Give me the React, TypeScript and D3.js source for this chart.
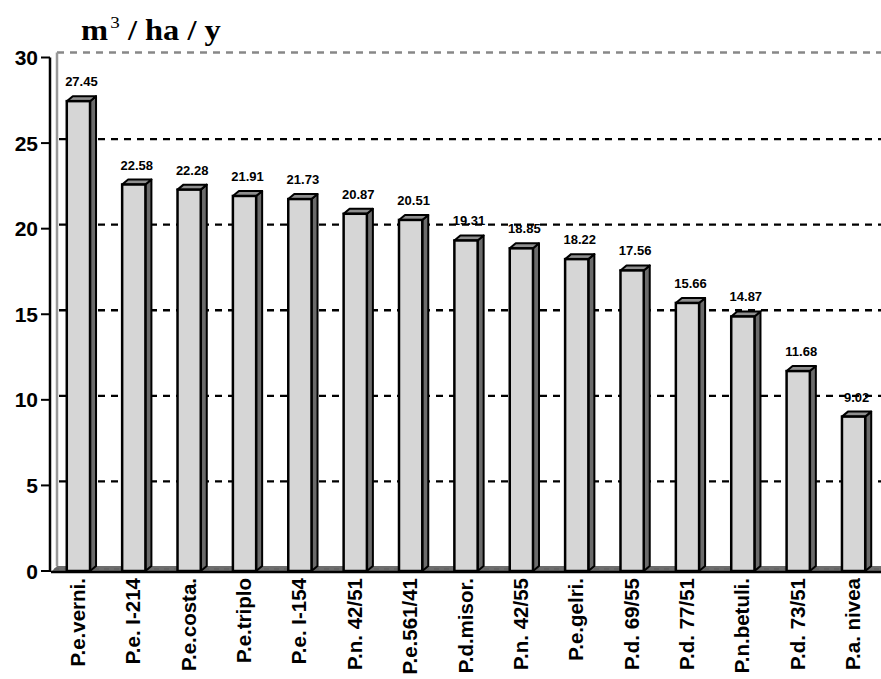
import React, { useRef, useEffect } from 'react';
import * as d3 from 'd3';

const categories = [
    'P.e.verni.', 'P.e. I-214', 'P.e.costa.', 'P.e.triplo', 'P.e. I-154',
    'P.n. 42/51', 'P.e.561/41', 'P.d.misor.', 'P.n. 42/55', 'P.e.gelri.',
    'P.d. 69/55', 'P.d. 77/51', 'P.n.betuli.', 'P.d. 73/51', 'P.a. nivea'
];
const values = [27.45, 22.58, 22.28, 21.91, 21.73, 20.87, 20.51, 19.31, 18.85, 18.22, 17.56, 15.66, 14.87, 11.68, 9.02];
const yTicks = [0, 5, 10, 15, 20, 25, 30];

const W = 881;
const H = 679;
// 3d depth offset
const DX = 6;
const DY = -5;
const SANS = '"Liberation Sans", Arial, sans-serif';

const createChart = (svg: d3.Selection<SVGSVGElement, unknown, null, undefined>): void => {
    svg.selectAll('*').remove();

    const left = 51;
    const right = 881;

    const x = d3.scaleBand<string>()
        .domain(categories)
        .range([left, right])
        .paddingInner(0.58)
        .paddingOuter(0.285);

    const y = d3.scaleLinear()
        .domain([0, 30])
        .range([571, 57.5]);

    const bw = x.bandwidth();
    const y0 = y(0);

    // back wall gridlines
    const g = svg.append('g');
    g.selectAll('.grid')
        .data(yTicks.filter(t => t > 0 && t < 30))
        .enter().append('line')
        .attr('x1', left + DX + 2)
        .attr('x2', right)
        .attr('y1', d => y(d) + DY + 1)
        .attr('y2', d => y(d) + DY + 1)
        .attr('stroke', '#000')
        .attr('stroke-width', 2.4)
        .attr('stroke-dasharray', '7,6');

    // top edge of the wall
    g.append('line')
        .attr('x1', left + DX).attr('x2', right)
        .attr('y1', y(30) + DY).attr('y2', y(30) + DY)
        .attr('stroke', '#888').attr('stroke-width', 2.5)
        .attr('stroke-dasharray', '7,6');
    // left edge of the wall
    g.append('line')
        .attr('x1', left + DX).attr('x2', left + DX)
        .attr('y1', y(30) + DY).attr('y2', y0 + DY)
        .attr('stroke', '#999').attr('stroke-width', 2.5);

    // floor
    g.append('polygon')
        .attr('points', `${left},${y0 + 1} ${left + DX},${y0 + DY} ${right},${y0 + DY} ${right},${y0 + 1}`)
        .attr('fill', '#6e6e6e');
    g.append('line')
        .attr('x1', left + DX / 2).attr('x2', right)
        .attr('y1', y0 - 2).attr('y2', y0 - 2)
        .attr('stroke', '#555').attr('stroke-width', 0.8)
        .attr('stroke-dasharray', '5,5');

    // bars
    const bars = g.selectAll('.bar')
        .data(values)
        .enter().append('g')
        .attr('class', 'bar');

    // side face
    bars.append('polygon')
        .attr('points', (d, i) => {
            const bx = x(categories[i])! + bw;
            const ty = y(d);
            return `${bx},${ty} ${bx + DX},${ty + DY} ${bx + DX},${y0 + DY} ${bx},${y0}`;
        })
        .attr('fill', '#6b6b6b')
        .attr('stroke', '#000')
        .attr('stroke-width', 2)
        .attr('stroke-linejoin', 'round');

    // top face
    bars.append('polygon')
        .attr('points', (d, i) => {
            const bx = x(categories[i])!;
            const ty = y(d);
            return `${bx},${ty} ${bx + DX},${ty + DY} ${bx + bw + DX},${ty + DY} ${bx + bw},${ty}`;
        })
        .attr('fill', '#8f8f8f')
        .attr('stroke', '#000')
        .attr('stroke-width', 2)
        .attr('stroke-linejoin', 'round');

    // front face
    bars.append('rect')
        .attr('x', (d, i) => x(categories[i])!)
        .attr('y', d => y(d))
        .attr('width', bw)
        .attr('height', d => y0 - y(d))
        .attr('fill', '#d6d6d6')
        .attr('stroke', '#000')
        .attr('stroke-width', 2.5);

    // value labels
    g.selectAll('.val')
        .data(values)
        .enter().append('text')
        .attr('x', (d, i) => x(categories[i])! + bw / 2 + DX / 2)
        .attr('y', d => y(d) + DY - 10)
        .attr('text-anchor', 'middle')
        .attr('font-family', SANS)
        .attr('font-weight', 'bold')
        .attr('font-size', 13)
        .attr('fill', '#000')
        .text(d => d.toFixed(2));

    // x axis line
    g.append('line')
        .attr('x1', left).attr('x2', right)
        .attr('y1', y0 + 1).attr('y2', y0 + 1)
        .attr('stroke', '#000').attr('stroke-width', 2.5);

    // y axis
    g.append('line')
        .attr('x1', left - 1).attr('x2', left - 1)
        .attr('y1', y(30)).attr('y2', y0 + 1)
        .attr('stroke', '#000').attr('stroke-width', 2.5);
    g.selectAll('.ytick')
        .data(yTicks)
        .enter().append('line')
        .attr('x1', left - 10).attr('x2', left - 1)
        .attr('y1', d => y(d)).attr('y2', d => y(d))
        .attr('stroke', '#000').attr('stroke-width', 2);
    g.selectAll('.ylab')
        .data(yTicks)
        .enter().append('text')
        .attr('x', left - 13)
        .attr('y', d => y(d))
        .attr('dy', '0.36em')
        .attr('text-anchor', 'end')
        .attr('font-family', SANS)
        .attr('font-weight', 'bold')
        .attr('font-size', 21)
        .text(d => d);

    // category labels
    g.selectAll('.xlab')
        .data(categories)
        .enter().append('text')
        .attr('transform', d => `translate(${x(d)! + bw / 2 + 6.5},${y0 + 7}) rotate(-90)`)
        .attr('text-anchor', 'end')
        .attr('font-family', SANS)
        .attr('font-weight', 'bold')
        .attr('font-size', 20.5)
        .text(d => d);

    // unit title
    const title = svg.append('text')
        .attr('transform', 'translate(81,40) scale(1.12,1)')
        .attr('font-family', '"Liberation Serif", "Times New Roman", serif')
        .attr('font-weight', 'bold')
        .attr('font-size', 29);
    title.append('tspan').text('m');
    title.append('tspan')
        .attr('dy', -12)
        .attr('dx', 2)
        .attr('font-size', 17)
        .attr('font-weight', 'normal')
        .text('3');
    title.append('tspan')
        .attr('dy', 12)
        .text(' / ha / y');
};

const App: React.FC = () => {
    const ref = useRef<SVGSVGElement>(null);

    useEffect(() => {
        if (ref.current) {
            createChart(d3.select(ref.current));
        }
    }, []);

    return (
        <svg
            ref={ref}
            width={W}
            height={H}
            style={{ position: 'absolute', left: 0, top: 0, background: '#fff' }}
        />
    );
};

export default App;
